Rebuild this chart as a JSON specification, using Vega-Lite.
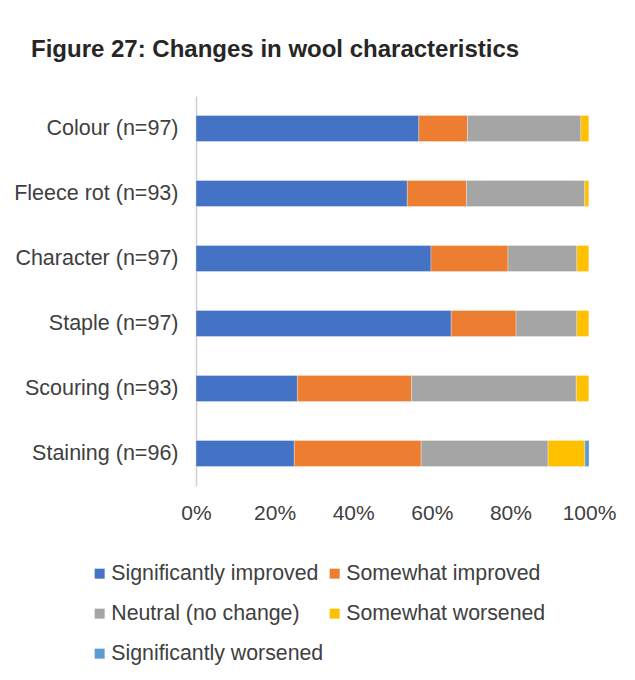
{
  "$schema": "https://vega.github.io/schema/vega-lite/v6.json",
  "autosize": {"type": "none"},
  "padding": {"left": 196, "top": 96, "right": 46, "bottom": 194},
  "width": 393,
  "height": 390,
  "background": "white",
  "title": {
    "text": "Figure 27: Changes in wool characteristics",
    "anchor": "start",
    "frame": "group",
    "dx": -165,
    "offset": 15,
    "baseline": "alphabetic",
    "font": "Liberation Sans",
    "fontSize": 24,
    "fontWeight": "bold",
    "color": "#262626"
  },
  "data": {
    "values": [
      {"item": "Colour (n=97)", "response": "Significantly improved", "order": 1, "count": 55},
      {"item": "Colour (n=97)", "response": "Somewhat improved", "order": 2, "count": 12},
      {"item": "Colour (n=97)", "response": "Neutral (no change)", "order": 3, "count": 28},
      {"item": "Colour (n=97)", "response": "Somewhat worsened", "order": 4, "count": 2},
      {"item": "Colour (n=97)", "response": "Significantly worsened", "order": 5, "count": 0},
      {"item": "Fleece rot (n=93)", "response": "Significantly improved", "order": 1, "count": 50},
      {"item": "Fleece rot (n=93)", "response": "Somewhat improved", "order": 2, "count": 14},
      {"item": "Fleece rot (n=93)", "response": "Neutral (no change)", "order": 3, "count": 28},
      {"item": "Fleece rot (n=93)", "response": "Somewhat worsened", "order": 4, "count": 1},
      {"item": "Fleece rot (n=93)", "response": "Significantly worsened", "order": 5, "count": 0},
      {"item": "Character (n=97)", "response": "Significantly improved", "order": 1, "count": 58},
      {"item": "Character (n=97)", "response": "Somewhat improved", "order": 2, "count": 19},
      {"item": "Character (n=97)", "response": "Neutral (no change)", "order": 3, "count": 17},
      {"item": "Character (n=97)", "response": "Somewhat worsened", "order": 4, "count": 3},
      {"item": "Character (n=97)", "response": "Significantly worsened", "order": 5, "count": 0},
      {"item": "Staple (n=97)", "response": "Significantly improved", "order": 1, "count": 63},
      {"item": "Staple (n=97)", "response": "Somewhat improved", "order": 2, "count": 16},
      {"item": "Staple (n=97)", "response": "Neutral (no change)", "order": 3, "count": 15},
      {"item": "Staple (n=97)", "response": "Somewhat worsened", "order": 4, "count": 3},
      {"item": "Staple (n=97)", "response": "Significantly worsened", "order": 5, "count": 0},
      {"item": "Scouring (n=93)", "response": "Significantly improved", "order": 1, "count": 24},
      {"item": "Scouring (n=93)", "response": "Somewhat improved", "order": 2, "count": 27},
      {"item": "Scouring (n=93)", "response": "Neutral (no change)", "order": 3, "count": 39},
      {"item": "Scouring (n=93)", "response": "Somewhat worsened", "order": 4, "count": 3},
      {"item": "Scouring (n=93)", "response": "Significantly worsened", "order": 5, "count": 0},
      {"item": "Staining (n=96)", "response": "Significantly improved", "order": 1, "count": 24},
      {"item": "Staining (n=96)", "response": "Somewhat improved", "order": 2, "count": 31},
      {"item": "Staining (n=96)", "response": "Neutral (no change)", "order": 3, "count": 31},
      {"item": "Staining (n=96)", "response": "Somewhat worsened", "order": 4, "count": 9},
      {"item": "Staining (n=96)", "response": "Significantly worsened", "order": 5, "count": 1}
    ]
  },
  "mark": {"type": "bar", "stroke": "white", "strokeWidth": 0.5, "strokeOpacity": 0.6},
  "encoding": {
    "y": {
      "field": "item",
      "type": "nominal",
      "sort": ["Colour (n=97)", "Fleece rot (n=93)", "Character (n=97)", "Staple (n=97)", "Scouring (n=93)", "Staining (n=96)"],
      "scale": {"paddingInner": 0.6, "paddingOuter": 0.3},
      "axis": {
        "title": null,
        "ticks": false,
        "domain": true,
        "domainColor": "#d0d0d0",
        "domainWidth": 1.5,
        "labelFont": "Liberation Sans",
        "labelFontSize": 21.5,
        "labelColor": "#404040",
        "labelPadding": 18,
        "labelLimit": 300
      }
    },
    "x": {
      "field": "count",
      "type": "quantitative",
      "stack": "normalize",
      "scale": {"domain": [0, 1]},
      "axis": {
        "title": null,
        "values": [0, 0.2, 0.4, 0.6, 0.8, 1],
        "format": ".0%",
        "grid": false,
        "ticks": false,
        "domain": false,
        "labelFont": "Liberation Sans",
        "labelFontSize": 21,
        "labelColor": "#404040",
        "labelPadding": 16,
        "labelFlush": false,
        "labelOverlap": false
      }
    },
    "color": {
      "field": "response",
      "type": "nominal",
      "sort": ["Significantly improved", "Somewhat improved", "Neutral (no change)", "Somewhat worsened", "Significantly worsened"],
      "scale": {
        "domain": ["Significantly improved", "Somewhat improved", "Neutral (no change)", "Somewhat worsened", "Significantly worsened"],
        "range": ["#4472C4", "#ED7D31", "#A5A5A5", "#FFC000", "#5B9BD5"]
      },
      "legend": {
        "title": null,
        "orient": "none",
        "legendX": -107,
        "legendY": 467,
        "direction": "horizontal",
        "columns": 2,
        "columnPadding": 0,
        "rowPadding": 18,
        "padding": 0,
        "symbolType": "square",
        "symbolSize": 100,
        "symbolStrokeWidth": 0,
        "labelFont": "Liberation Sans",
        "labelFontSize": 21.3,
        "labelColor": "#404040",
        "labelOffset": 1,
        "labelLimit": 400
      }
    },
    "order": {"field": "order", "type": "quantitative"}
  },
  "config": {"view": {"stroke": null}}
}
